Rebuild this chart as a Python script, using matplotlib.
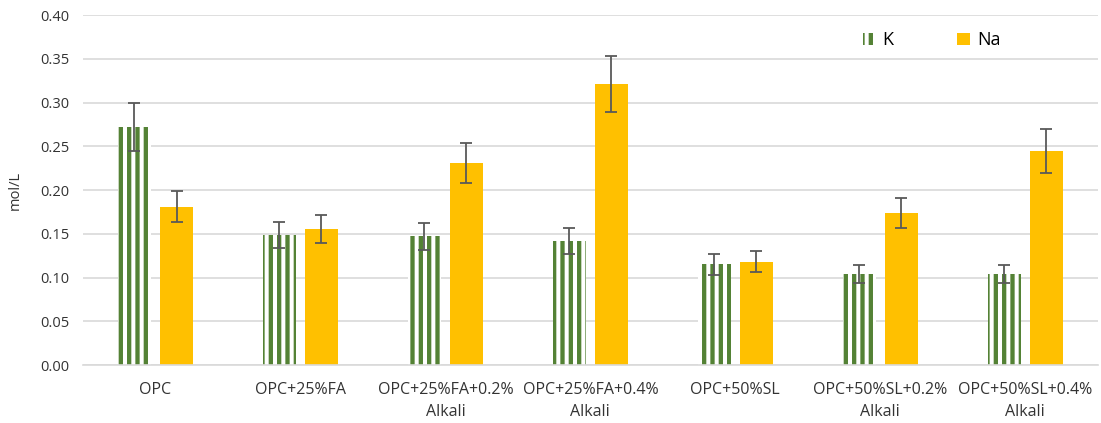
import numpy as np
import matplotlib
matplotlib.use('Agg')
import matplotlib.pyplot as plt

# data
categories = ['OPC', 'OPC+25%FA', 'OPC+25%FA+0.2%\nAlkali', 'OPC+25%FA+0.4%\nAlkali',
              'OPC+50%SL', 'OPC+50%SL+0.2%\nAlkali', 'OPC+50%SL+0.4%\nAlkali']
k_vals = [0.272, 0.149, 0.147, 0.142, 0.115, 0.104, 0.104]
k_err = [0.027, 0.015, 0.015, 0.015, 0.012, 0.010, 0.010]
na_vals = [0.181, 0.155, 0.231, 0.321, 0.118, 0.174, 0.245]
na_err = [0.018, 0.016, 0.023, 0.032, 0.012, 0.017, 0.025]

green = '#548235'
gold = '#FFC000'
errc = '#595959'

plt.rcParams['font.family'] = ['Open Sans', 'DejaVu Sans']
plt.rcParams['hatch.linewidth'] = 3.1
plt.rcParams['hatch.color'] = green

fig = plt.figure(figsize=(11.01, 4.23), dpi=100)
ax = fig.add_axes([0.0754, 0.137, 0.9216, 0.8275])

x = np.arange(len(categories))
w = 0.228
off = 0.145

ax.bar(x - off, k_vals, w, facecolor='white', edgecolor=green, hatch='||',
       linewidth=0, label='K', zorder=2)
ax.bar(x + off, na_vals, w, color=gold, label='Na', zorder=2)
ax.errorbar(x - off, k_vals, yerr=k_err, fmt='none', ecolor=errc,
            elinewidth=1.3, capsize=4.5, capthick=1.3, zorder=3)
ax.errorbar(x + off, na_vals, yerr=na_err, fmt='none', ecolor=errc,
            elinewidth=1.3, capsize=4.5, capthick=1.3, zorder=3)

ax.set_xlim(-0.5, len(categories) - 0.5)
ax.set_ylim(0, 0.40)
ax.set_yticks(np.arange(0, 0.401, 0.05))
ax.set_yticklabels([f'{v:.2f}' for v in np.arange(0, 0.401, 0.05)])
ax.set_xticks(x)
ax.set_xticklabels(categories, fontsize=11.5, color='#333333', linespacing=1.5)
ax.tick_params(axis='y', labelsize=10.5, colors='#333333', length=0, pad=10)
ax.tick_params(axis='x', length=0, pad=12)
ax.set_ylabel('mol/L', fontsize=10.5, color='#333333', labelpad=12)
ax.yaxis.grid(True, color='#D9D9D9', linewidth=1.2, zorder=0)
ax.set_axisbelow(True)
for s in ['top', 'right', 'left']:
    ax.spines[s].set_visible(False)
ax.spines['bottom'].set_color('#D9D9D9')
ax.spines['bottom'].set_linewidth(1.2)

ax.legend(loc='upper right', bbox_to_anchor=(0.92, 1.0), ncol=2, frameon=False,
          fontsize=13, handlelength=0.7, handleheight=0.7, columnspacing=3.5,
          handletextpad=0.4)

fig.savefig('out.png', dpi=100)
